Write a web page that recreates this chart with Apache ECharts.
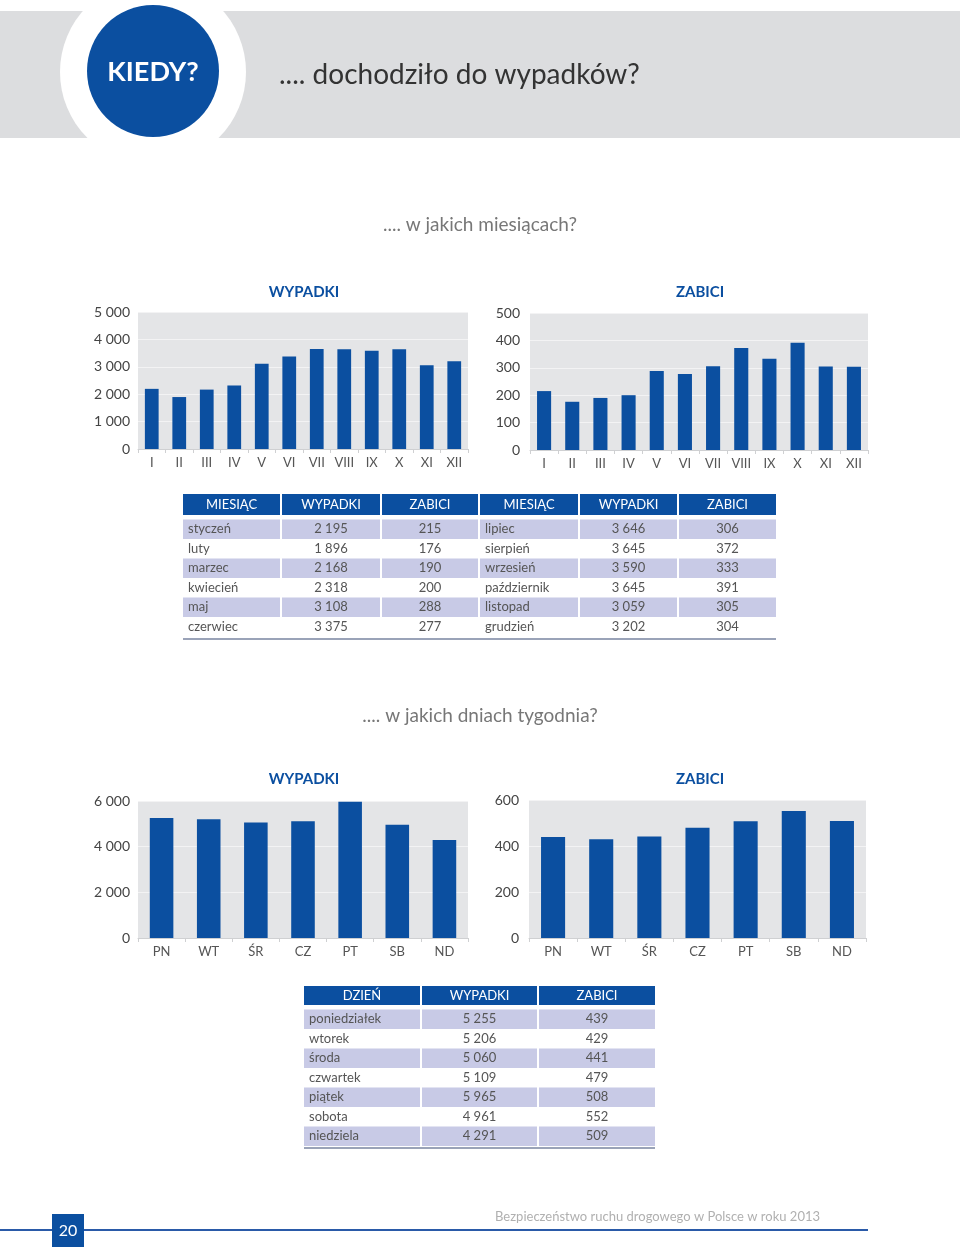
<!DOCTYPE html>
<html><head><meta charset="utf-8">
<script src="https://cdn.jsdelivr.net/npm/echarts@6/dist/echarts.min.js"></script>
<style>html,body{margin:0;padding:0;background:#fff}#c{width:960px;height:1252px}</style>
</head><body><div id="c"></div>
<script>
// ---- data ----
const monthLabels = ['I','II','III','IV','V','VI','VII','VIII','IX','X','XI','XII'];
const monthNames = ['styczeń','luty','marzec','kwiecień','maj','czerwiec','lipiec','sierpień','wrzesień','październik','listopad','grudzień'];
const monthAccidents = [2195,1896,2168,2318,3108,3375,3646,3645,3590,3645,3059,3202];
const monthKilled = [215,176,190,200,288,277,306,372,333,391,305,304];
const dayLabels = ['PN','WT','ŚR','CZ','PT','SB','ND'];
const dayNames = ['poniedziałek','wtorek','środa','czwartek','piątek','sobota','niedziela'];
const dayAccidents = [5255,5206,5060,5109,5965,4961,4291];
const dayKilled = [439,429,441,479,508,552,509];

// ---- style ----
const FONT = "Lato, 'Open Sans', sans-serif";
const BLUE = '#0b4fa0';
const SHADE = '#c8cae6';
const fmt = v => String(v).replace(/\B(?=(\d{3})+(?!\d))/g, ' ');

const chart = echarts.init(document.getElementById('c'), null, {renderer:'canvas'});

const grids = [
  {left:138, top:312, width:330, height:137},
  {left:530, top:313, width:338, height:137},
  {left:138, top:801, width:330, height:137},
  {left:529, top:800, width:337, height:138}
];
const yCfg = [
  {max:5000, interval:1000, margin:8},
  {max:500, interval:100, margin:10},
  {max:6000, interval:2000, margin:8},
  {max:600, interval:200, margin:10}
];
const cats = [monthLabels, monthLabels, dayLabels, dayLabels];
const vals = [monthAccidents, monthKilled, dayAccidents, dayKilled];

const graphic = [];
// header band
graphic.push({type:'rect', shape:{x:0,y:11,width:960,height:127}, style:{fill:'#dcdddf'}, silent:true});
graphic.push({type:'circle', shape:{cx:153,cy:72,r:93}, style:{fill:'#ffffff'}, silent:true});
graphic.push({type:'circle', shape:{cx:153,cy:71,r:66}, style:{fill:BLUE}, silent:true});
graphic.push({type:'text', x:153, y:72, style:{text:'KIEDY?', fill:'#fff', font:'bold 27px '+FONT, align:'center', verticalAlign:'middle'}});
graphic.push({type:'text', x:279, y:75, style:{text:'.... dochodziło do wypadków?', fill:'#333', font:'28px '+FONT, align:'left', verticalAlign:'middle'}});
graphic.push({type:'text', x:480, y:225, style:{text:'.... w jakich miesiącach?', fill:'#777', font:'19px '+FONT, align:'center', verticalAlign:'middle'}});
graphic.push({type:'text', x:480, y:716, style:{text:'.... w jakich dniach tygodnia?', fill:'#777', font:'19px '+FONT, align:'center', verticalAlign:'middle'}});

// chart titles
[{text:'WYPADKI', x:304, y:292},{text:'ZABICI', x:700, y:292},
 {text:'WYPADKI', x:304, y:779},{text:'ZABICI', x:700, y:779}].forEach(t => {
  graphic.push({type:'text', x:t.x, y:t.y, style:{text:t.text, fill:BLUE, font:'bold 15px '+FONT, align:'center', verticalAlign:'middle'}});
});

// tables
function addTable(colX, colW, headerY, headerH, rowY, rowH, headers, rows, lineY) {
  headers.forEach((h, c) => {
    graphic.push({type:'rect', shape:{x:colX[c], y:headerY, width:colW[c], height:headerH}, style:{fill:BLUE}, silent:true});
    graphic.push({type:'text', x:colX[c]+colW[c]/2, y:headerY+headerH/2, style:{text:h, fill:'#fff', font:'13px '+FONT, align:'center', verticalAlign:'middle'}});
  });
  rows.forEach((r, i) => {
    const y = rowY + i*rowH;
    r.forEach((cell, c) => {
      if (i % 2 === 0) {
        graphic.push({type:'rect', shape:{x:colX[c], y:y, width:colW[c], height:rowH}, style:{fill:SHADE}, silent:true});
      }
      const isName = (c % 3 === 0);
      graphic.push({type:'text', x: isName ? colX[c]+5 : colX[c]+colW[c]/2, y:y+rowH/2,
        style:{text:cell, fill:'#555', font:'13px '+FONT, align: isName ? 'left':'center', verticalAlign:'middle'}});
    });
  });
  const x0 = colX[0], x1 = colX[colX.length-1]+colW[colW.length-1];
  graphic.push({type:'rect', shape:{x:x0, y:lineY, width:x1-x0, height:2}, style:{fill:'#9aa3b8'}, silent:true});
}
const mRows = [];
for (let i = 0; i < 6; i++) {
  mRows.push([monthNames[i], fmt(monthAccidents[i]), fmt(monthKilled[i]),
              monthNames[i+6], fmt(monthAccidents[i+6]), fmt(monthKilled[i+6])]);
}
addTable([183,282,382,480,580,679],[97,98,96,98,97,97],494,21,519.5,19.5,
  ['MIESIĄC','WYPADKI','ZABICI','MIESIĄC','WYPADKI','ZABICI'], mRows, 638);
const dRows = dayNames.map((n,i)=>[n, fmt(dayAccidents[i]), fmt(dayKilled[i])]);
addTable([304,422,539],[116,115,116],986,19,1009.5,19.5,['DZIEŃ','WYPADKI','ZABICI'], dRows, 1147);

// footer
graphic.push({type:'rect', shape:{x:0,y:1229,width:868,height:2}, style:{fill:'#2a5aa8'}, silent:true});
graphic.push({type:'rect', shape:{x:52,y:1214,width:32,height:33}, style:{fill:BLUE}, silent:true});
graphic.push({type:'text', x:68, y:1231, style:{text:'20', fill:'#fff', font:'16px '+FONT, align:'center', verticalAlign:'middle'}});
graphic.push({type:'text', x:820, y:1217, style:{text:'Bezpieczeństwo ruchu drogowego w Polsce w roku 2013', fill:'#b0b0b0', font:'13px '+FONT, align:'right', verticalAlign:'middle'}});

const option = {
  animation:false,
  backgroundColor:'#fff',
  grid: grids.map(g => Object.assign({show:true, backgroundColor:'#e4e5e7', borderWidth:0, containLabel:false}, g)),
  xAxis: cats.map((c,i) => ({
    type:'category', gridIndex:i, data:c,
    axisLine:{show:true, lineStyle:{color:'#cfd0d2', width:1}},
    axisTick:{show:true, alignWithLabel:false, length:4, lineStyle:{color:'#cfd0d2'}},
    axisLabel:{color:'#555', fontSize:13, fontFamily:FONT, margin:7, interval:0}
  })),
  yAxis: yCfg.map((y,i) => ({
    type:'value', gridIndex:i, min:0, max:y.max, interval:y.interval,
    axisLine:{show:false}, axisTick:{show:false},
    splitLine:{show:true, lineStyle:{color:'#f3f3f4', width:1}},
    axisLabel:{color:'#444', fontSize:14, fontFamily:FONT, margin:y.margin, formatter: v => fmt(v)}
  })),
  series: vals.map((v,i) => ({
    type:'bar', xAxisIndex:i, yAxisIndex:i, data:v, barWidth:'50%',
    itemStyle:{color:BLUE}, silent:true
  })),
  graphic: graphic
};
chart.setOption(option);
</script></body></html>
